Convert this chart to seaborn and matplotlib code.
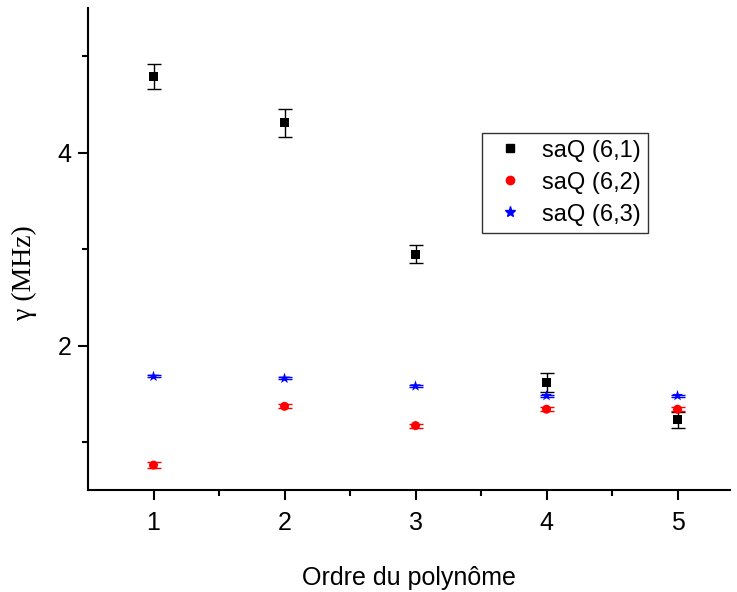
import numpy as np
import pandas as pd
import matplotlib.pyplot as plt
import seaborn as sns

# Data
ordre = [1, 2, 3, 4, 5]
gamma_61 = [4.79, 4.31, 2.95, 1.62, 1.23]
err_61 = [0.13, 0.15, 0.09, 0.10, 0.08]
gamma_62 = [0.76, 1.37, 1.17, 1.34, 1.34]
err_62 = [0.03, 0.02, 0.02, 0.02, 0.02]
gamma_63 = [1.68, 1.66, 1.58, 1.48, 1.48]
err_63 = [0.01, 0.01, 0.01, 0.01, 0.01]
labels = ["saQ (6,1)", "saQ (6,2)", "saQ (6,3)"]

df = pd.DataFrame({
    "ordre": ordre * 3,
    "gamma": gamma_61 + gamma_62 + gamma_63,
    "err": err_61 + err_62 + err_63,
    "serie": [labels[0]] * 5 + [labels[1]] * 5 + [labels[2]] * 5,
})

sns.set_style("ticks")
plt.rcParams["font.family"] = ["Liberation Sans", "DejaVu Sans"]
plt.rcParams["text.color"] = "black"
plt.rcParams["xtick.color"] = "black"
plt.rcParams["ytick.color"] = "black"
plt.rcParams["axes.labelcolor"] = "black"

fig = plt.figure(figsize=(7.37, 5.92), dpi=100)
ax = fig.add_axes([0.1194, 0.172, 0.871, 0.814])

colors = {labels[0]: "black", labels[1]: "red", labels[2]: "blue"}
markers = {labels[0]: "s", labels[1]: "o", labels[2]: "*"}
sizes = {labels[0]: 42, labels[1]: 42, labels[2]: 70}

for lab in labels:
    sub = df[df["serie"] == lab]
    ax.errorbar(sub["ordre"], sub["gamma"], yerr=sub["err"], fmt="none",
                ecolor=colors[lab], elinewidth=1, capsize=5, capthick=1, zorder=2)

sns.scatterplot(data=df, x="ordre", y="gamma", hue="serie", style="serie",
                palette=colors, markers=markers, size="serie", sizes=sizes,
                edgecolor="none", linewidth=0, ax=ax, zorder=3, legend=False)

# legend
handles = [plt.Line2D([], [], ls="none", marker=markers[l], color=colors[l],
                      markersize=6 if l != labels[2] else 8) for l in labels]
leg = ax.legend(handles, labels, loc="upper left", bbox_to_anchor=(0.614, 0.742),
                frameon=True, fancybox=False, fontsize=17, handletextpad=0.5,
                borderpad=0.3, labelspacing=0.42, handlelength=1.75,
                borderaxespad=0)
leg.get_frame().set_edgecolor("black")
leg.get_frame().set_linewidth(1)

ax.set_xlim(0.5, 5.4)
ax.set_ylim(0.5, 5.5)
ax.set_xticks(ordre)
ax.set_xticks([1.5, 2.5, 3.5, 4.5], minor=True)
ax.set_yticks([2, 4])
ax.set_yticks([1, 3, 5], minor=True)
ax.tick_params(axis="both", which="major", labelsize=18, length=7, width=1.5,
               direction="out", color="black", labelcolor="black")
ax.tick_params(axis="both", which="minor", length=4, width=1.5, direction="out",
               color="black")
ax.tick_params(axis="x", pad=8)
ax.tick_params(axis="y", pad=5)

for s in ["top", "right"]:
    ax.spines[s].set_visible(False)
for s in ["left", "bottom"]:
    ax.spines[s].set_linewidth(1.5)
    ax.spines[s].set_color("black")

ax.set_xlabel("Ordre du polynôme", fontsize=18, labelpad=22, color="black")
ax.set_ylabel("γ (MHz)", fontsize=20, family=["Liberation Serif", "DejaVu Serif"],
              color="black")
ax.yaxis.set_label_coords(-0.08, 0.452)

fig.savefig("out.png", dpi=100)
